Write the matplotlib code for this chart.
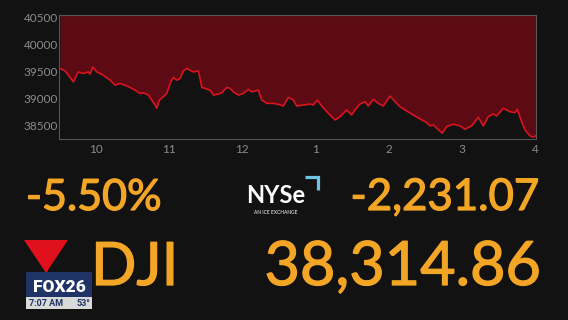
import matplotlib
matplotlib.use('Agg')
import matplotlib.pyplot as plt
import matplotlib.patheffects as pe
from matplotlib.patches import Polygon, Rectangle
from matplotlib.lines import Line2D

# Dow Jones intraday (hour of day, index level)
hours = [9.514, 9.582, 9.627, 9.695, 9.763, 9.831, 9.900, 9.923, 9.960, 10.014,
         10.104, 10.195, 10.264, 10.332, 10.400, 10.468, 10.536, 10.605, 10.650, 10.718,
         10.764, 10.809, 10.832, 10.868, 10.922, 10.969, 11.023, 11.059, 11.105, 11.150,
         11.195, 11.241, 11.286, 11.331, 11.400, 11.423, 11.446, 11.491, 11.559, 11.604,
         11.672, 11.719, 11.787, 11.832, 11.877, 11.945, 12.013, 12.081, 12.128, 12.218,
         12.264, 12.332, 12.422, 12.490, 12.559, 12.627, 12.695, 12.741, 12.831, 12.923,
         12.968, 13.022, 13.082, 13.172, 13.264, 13.332, 13.423, 13.491, 13.536, 13.605,
         13.673, 13.718, 13.786, 13.854, 13.922, 14.014, 14.082, 14.150, 14.241, 14.331,
         14.423, 14.514, 14.559, 14.604, 14.650, 14.727, 14.787, 14.877, 14.968, 15.036,
         15.128, 15.218, 15.286, 15.354, 15.422, 15.468, 15.559, 15.650, 15.718, 15.750,
         15.809, 15.855, 15.923, 15.968, 16.000]
levels = [39559, 39515, 39436, 39313, 39496, 39467, 39496, 39454, 39588, 39496,
          39436, 39344, 39252, 39283, 39252, 39210, 39160, 39100, 39111, 39069,
          38977, 38885, 38825, 38977, 39038, 39100, 39313, 39393, 39344, 39375,
          39515, 39559, 39527, 39496, 39515, 39375, 39210, 39192, 39160, 39069,
          39087, 39111, 39210, 39192, 39129, 39069, 39100, 39173, 39129, 39160,
          38977, 38916, 38916, 38898, 38867, 39026, 38977, 38867, 38885, 38904,
          38885, 38977, 38867, 38733, 38610, 38670, 38793, 38702, 38793, 38904,
          38946, 38867, 38990, 38916, 38867, 39050, 38946, 38854, 38775, 38702,
          38628, 38560, 38500, 38518, 38458, 38366, 38487, 38531, 38500, 38439,
          38500, 38659, 38500, 38671, 38720, 38683, 38825, 38762, 38744, 38806,
          38579, 38426, 38316, 38292, 38315]
prev_close = 40545.93

x_ticks = [10, 11, 12, 13, 14, 15, 16]
x_labels = ['10', '11', '12', '1', '2', '3', '4']
y_ticks = [38500, 39000, 39500, 40000, 40500]

pct_change = '-5.50%'
pt_change = '-2,231.07'
ticker = 'DJI'
last_value = '38,314.86'

BG = '#121212'
ORANGE = '#f3a526'
GRAY = '#8c8c8c'

plt.rcParams['font.family'] = ['Lato', 'DejaVu Sans']

fig = plt.figure(figsize=(5.68, 3.2), dpi=100, facecolor=BG)
ax = fig.add_axes([0.104, 0.566, 0.839, 0.387])
ax.set_facecolor(BG)

ax.fill_between(hours, levels, prev_close, color='#5c0a13', linewidth=0)
ax.plot(hours, levels, color='#d8141f', linewidth=1.2)

ax.set_xlim(9.5, 16)
ax.set_ylim(38260, prev_close)
ax.set_xticks(x_ticks)
ax.set_xticklabels(x_labels)
ax.set_yticks(y_ticks)
ax.set_yticklabels([str(v) for v in y_ticks])
ax.tick_params(length=0, colors=GRAY, labelsize=8.5)
ax.tick_params(axis='x', pad=4)
ax.tick_params(axis='y', pad=1)
for s in ax.spines.values():
    s.set_color('#555555')
    s.set_linewidth(0.8)

W, H = 568.0, 320.0
def fx(px):
    return px / W
def fy(py):
    return 1 - py / H

# big quote numbers (slight stroke to match the heavier broadcast font)
thick = [pe.withStroke(linewidth=0.9, foreground=ORANGE)]
fig.text(fx(26), fy(210), pct_change, color=ORANGE, fontsize=31,
         ha='left', va='baseline', path_effects=thick)
fig.text(fx(539), fy(210), pt_change, color=ORANGE, fontsize=31.5,
         ha='right', va='baseline', path_effects=thick)
fig.text(fx(91), fy(285), ticker, color=ORANGE, fontsize=43,
         ha='left', va='baseline', path_effects=thick)
fig.text(fx(541), fy(285), last_value, color=ORANGE, fontsize=44,
         ha='right', va='baseline', path_effects=thick)

# NYSE logo
fig.text(fx(246), fy(203), 'NYSe', color='white', fontsize=17, fontweight='bold',
         ha='left', va='baseline')
fig.text(fx(276), fy(214), 'AN ICE EXCHANGE', color='white', fontsize=3.5,
         ha='center', va='baseline')
fig.add_artist(Line2D([fx(305), fx(318), fx(318)], [fy(176.5), fy(176.5), fy(190)],
                      transform=fig.transFigure, color='#6cc6e2', linewidth=2.3,
                      solid_joinstyle='miter', solid_capstyle='butt'))

# down arrow + station bug
fig.add_artist(Polygon([[fx(24), fy(240)], [fx(68), fy(240)], [fx(46), fy(273)]],
                       closed=True, transform=fig.transFigure, color='#e0101c', linewidth=0))
fig.add_artist(Rectangle((fx(26), fy(297)), fx(92) - fx(26), fy(272) - fy(297),
                         transform=fig.transFigure, color='#1f3366', linewidth=0))
fig.add_artist(Rectangle((fx(26), fy(309)), fx(92) - fx(26), fy(297) - fy(309),
                         transform=fig.transFigure, color='#d9d9d9', linewidth=0))
fig.text(fx(59), fy(292), 'FOX26', color='white', fontsize=12.5, fontweight='heavy',
         family='Roboto', ha='center', va='baseline')
fig.text(fx(29), fy(306.5), '7:07 AM', color='#1f3366', fontsize=6.5, fontweight='bold',
         family='Roboto', ha='left', va='baseline')
fig.text(fx(90), fy(306.5), '53°', color='#1f3366', fontsize=6.5, fontweight='bold',
         family='Roboto', ha='right', va='baseline')

fig.savefig('out.png', dpi=100, facecolor=BG)
